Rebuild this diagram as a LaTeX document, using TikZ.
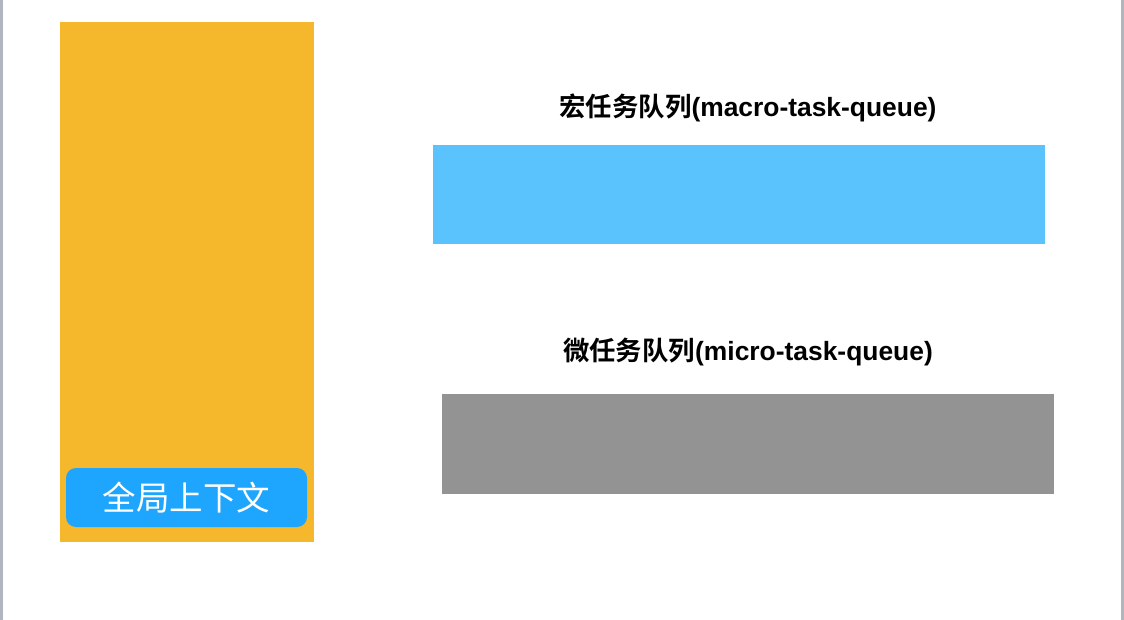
\documentclass[tikz,border=0pt]{standalone}
\usepackage{fontspec}
\newfontfamily\cjk{Noto Sans CJK SC}
\newfontfamily\cjkb{Noto Sans CJK SC Bold}
\newfontfamily\latb{Liberation Sans Bold}
\definecolor{orangebg}{HTML}{F5B72B}
\definecolor{btnblue}{HTML}{1EA5FD}
\definecolor{macroblue}{HTML}{5AC2FC}
\definecolor{microgray}{HTML}{939393}
\definecolor{edgegray}{HTML}{B0B5BE}
\begin{document}
\begin{tikzpicture}[x=1pt,y=-1pt,
  block/.style={draw=none,inner sep=0pt},
  title/.style={font=\fontsize{26.4}{31}\selectfont,text=black,inner sep=0pt}]
\useasboundingbox (0,0) rectangle (1124,620);
\fill[white] (0,0) rectangle (1124,620);
\fill[edgegray] (0,0) rectangle (3,620);
\fill[edgegray] (1121,0) rectangle (1124,620);
\path[fill=orangebg] (60,22) rectangle (314,542);
\node[block,fill=btnblue,rounded corners=10pt,minimum width=241pt,minimum height=59pt,text=white,font=\cjk\fontsize{33.5}{38}\selectfont] (ctx) at (186.5,497.5) {全局上下文};
\node[title] (macrot) at (748,108) {{\cjkb 宏任务队列}{\latb (macro-task-queue)}};
\node[block,fill=macroblue,minimum width=612pt,minimum height=99pt] (macro) at (739,194.5) {};
\node[title] (microt) at (748,352) {{\cjkb 微任务队列}{\latb (micro-task-queue)}};
\node[block,fill=microgray,minimum width=612pt,minimum height=100pt] (micro) at (748,444) {};
\end{tikzpicture}
\end{document}
